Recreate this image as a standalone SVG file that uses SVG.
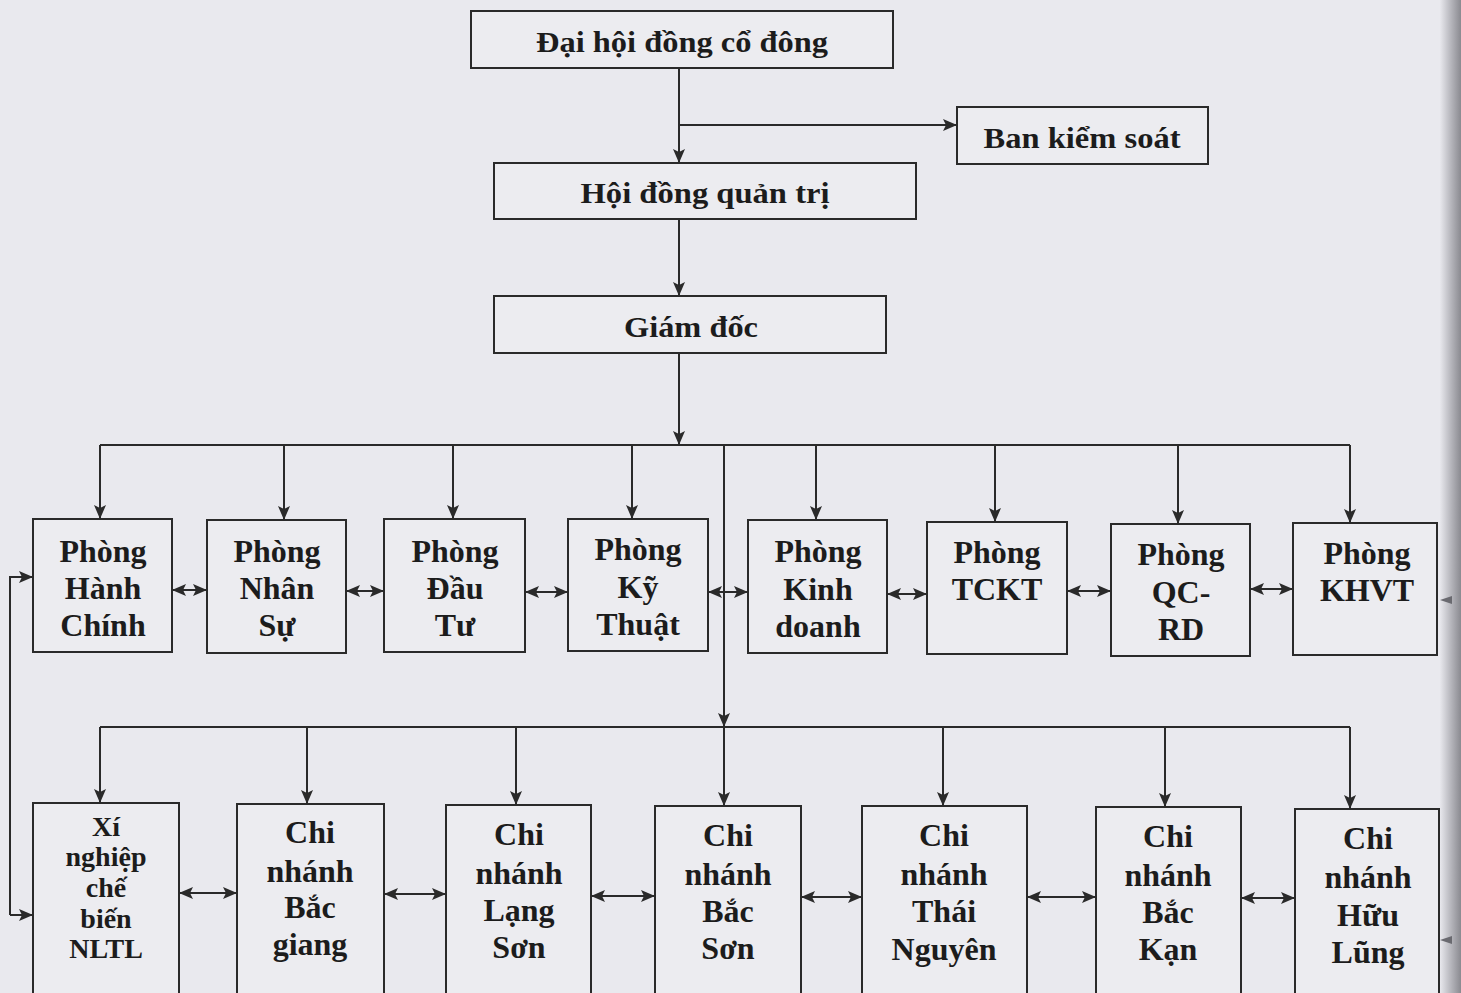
<svg xmlns="http://www.w3.org/2000/svg" width="1461" height="993" viewBox="0 0 1461 993">
<defs>
<marker id="ah" viewBox="0 0 14 12" refX="14" refY="6" markerWidth="14" markerHeight="12" markerUnits="userSpaceOnUse" orient="auto-start-reverse">
<path d="M0,0 L14,6 L0,12 L3,6 Z" fill="#2a2a2a"/>
</marker>
<linearGradient id="fold" x1="0" y1="0" x2="1" y2="0">
<stop offset="0" stop-color="#e8e8ed"/>
<stop offset="0.5" stop-color="#b8b8be"/>
<stop offset="1" stop-color="#8a8a90"/>
</linearGradient>
<style>
.box{fill:#ececf0;stroke:#2a2a2a;stroke-width:2}
.ln{fill:none;stroke:#2a2a2a;stroke-width:2}
.arr{marker-end:url(#ah)}
.dbl{marker-start:url(#ah);marker-end:url(#ah)}
text{font-family:"Liberation Serif","Times New Roman",serif;font-weight:bold;fill:#1c1c1c;text-anchor:middle}
.t{font-size:32px}
.s{font-size:28px}
.h{font-size:30px}
</style>
</defs>
<rect x="0" y="0" width="1461" height="993" fill="#e9e9ee"/>
<rect x="1440" y="0" width="21" height="993" fill="url(#fold)"/>

<g id="connectors">
<path class="ln arr" d="M679,68 V163"/>
<path class="ln arr" d="M679,125 H957"/>
<path class="ln arr" d="M679,219 V296"/>
<path class="ln arr" d="M679,353 V445"/>
<path class="ln" d="M100,445 H1350"/>
<path class="ln arr" d="M100,445 V519"/>
<path class="ln arr" d="M284,445 V520"/>
<path class="ln arr" d="M453,445 V519"/>
<path class="ln arr" d="M632,445 V519"/>
<path class="ln arr" d="M816,445 V520"/>
<path class="ln arr" d="M995,445 V522"/>
<path class="ln arr" d="M1178,445 V524"/>
<path class="ln arr" d="M1350,445 V523"/>
<path class="ln arr" d="M724,445 V727"/>
<path class="ln" d="M100,727 H1350"/>
<path class="ln arr" d="M100,727 V803"/>
<path class="ln arr" d="M307,727 V804"/>
<path class="ln arr" d="M516,727 V805"/>
<path class="ln arr" d="M724,727 V806"/>
<path class="ln arr" d="M943,727 V806"/>
<path class="ln arr" d="M1165,727 V807"/>
<path class="ln arr" d="M1350,727 V809"/>
<path class="ln dbl" d="M172,590 H207"/>
<path class="ln dbl" d="M346,591 H384"/>
<path class="ln dbl" d="M525,592 H568"/>
<path class="ln dbl" d="M708,592 H748"/>
<path class="ln dbl" d="M887,594 H927"/>
<path class="ln dbl" d="M1067,591 H1111"/>
<path class="ln dbl" d="M1250,589 H1293"/>
<path class="ln dbl" d="M179,893 H237"/>
<path class="ln dbl" d="M384,894 H446"/>
<path class="ln dbl" d="M591,896 H655"/>
<path class="ln dbl" d="M801,897 H862"/>
<path class="ln dbl" d="M1027,897 H1096"/>
<path class="ln dbl" d="M1241,898 H1295"/>
<path class="ln arr" d="M10,915 V577 H33"/>
<path class="ln arr" d="M10,915 H33"/>
<path d="M1440,600 L1452,596 L1452,604 Z" fill="#6a6a70"/>
<path d="M1440,940 L1452,936 L1452,944 Z" fill="#6a6a70"/>
</g>

<g id="n-dhdcd"><rect class="box" x="471" y="11" width="422" height="57"/><text class="h" x="682" y="52" textLength="292" lengthAdjust="spacingAndGlyphs">Đại hội đồng cổ đông</text></g>
<g id="n-bks"><rect class="box" x="957" y="107" width="251" height="57"/><text class="h" x="1082" y="148" textLength="197" lengthAdjust="spacingAndGlyphs">Ban kiểm soát</text></g>
<g id="n-hdqt"><rect class="box" x="494" y="163" width="422" height="56"/><text class="h" x="705" y="203" textLength="249" lengthAdjust="spacingAndGlyphs">Hội đồng quản trị</text></g>
<g id="n-gd"><rect class="box" x="494" y="296" width="392" height="57"/><text class="h" x="691" y="337" textLength="134" lengthAdjust="spacingAndGlyphs">Giám đốc</text></g>

<g id="n-hc"><rect class="box" x="33" y="519" width="139" height="133"/><text class="t" x="103" y="562">Phòng</text><text class="t" x="103" y="599">Hành</text><text class="t" x="103" y="636">Chính</text></g>
<g id="n-ns"><rect class="box" x="207" y="520" width="139" height="133"/><text class="t" x="277" y="562">Phòng</text><text class="t" x="277" y="599">Nhân</text><text class="t" x="277" y="636">Sự</text></g>
<g id="n-dt"><rect class="box" x="384" y="519" width="141" height="133"/><text class="t" x="455" y="562">Phòng</text><text class="t" x="455" y="599">Đầu</text><text class="t" x="455" y="636">Tư</text></g>
<g id="n-kt"><rect class="box" x="568" y="519" width="140" height="132"/><text class="t" x="638" y="560">Phòng</text><text class="t" x="638" y="598">Kỹ</text><text class="t" x="638" y="635">Thuật</text></g>
<g id="n-kd"><rect class="box" x="748" y="520" width="139" height="133"/><text class="t" x="818" y="562">Phòng</text><text class="t" x="818" y="600">Kinh</text><text class="t" x="818" y="637">doanh</text></g>
<g id="n-tckt"><rect class="box" x="927" y="522" width="140" height="132"/><text class="t" x="997" y="563">Phòng</text><text class="t" x="997" y="600">TCKT</text></g>
<g id="n-qcrd"><rect class="box" x="1111" y="524" width="139" height="132"/><text class="t" x="1181" y="565">Phòng</text><text class="t" x="1181" y="603">QC-</text><text class="t" x="1181" y="640">RD</text></g>
<g id="n-khvt"><rect class="box" x="1293" y="523" width="144" height="132"/><text class="t" x="1367" y="564">Phòng</text><text class="t" x="1367" y="601">KHVT</text></g>

<g id="n-xn"><rect class="box" x="33" y="803" width="146" height="200"/><text class="s" x="106" y="836">Xí</text><text class="s" x="106" y="866">nghiệp</text><text class="s" x="106" y="897">chế</text><text class="s" x="106" y="928">biến</text><text class="s" x="106" y="958">NLTL</text></g>
<g id="n-bg"><rect class="box" x="237" y="804" width="147" height="200"/><text class="t" x="310" y="843">Chi</text><text class="t" x="310" y="882">nhánh</text><text class="t" x="310" y="918">Bắc</text><text class="t" x="310" y="955">giang</text></g>
<g id="n-ls"><rect class="box" x="446" y="805" width="145" height="200"/><text class="t" x="519" y="845">Chi</text><text class="t" x="519" y="884">nhánh</text><text class="t" x="519" y="921">Lạng</text><text class="t" x="519" y="958">Sơn</text></g>
<g id="n-bs"><rect class="box" x="655" y="806" width="146" height="200"/><text class="t" x="728" y="846">Chi</text><text class="t" x="728" y="885">nhánh</text><text class="t" x="728" y="922">Bắc</text><text class="t" x="728" y="959">Sơn</text></g>
<g id="n-tn"><rect class="box" x="862" y="806" width="165" height="200"/><text class="t" x="944" y="846">Chi</text><text class="t" x="944" y="885">nhánh</text><text class="t" x="944" y="922">Thái</text><text class="t" x="944" y="960">Nguyên</text></g>
<g id="n-bk"><rect class="box" x="1096" y="807" width="145" height="200"/><text class="t" x="1168" y="847">Chi</text><text class="t" x="1168" y="886">nhánh</text><text class="t" x="1168" y="923">Bắc</text><text class="t" x="1168" y="960">Kạn</text></g>
<g id="n-hl"><rect class="box" x="1295" y="809" width="144" height="200"/><text class="t" x="1368" y="849">Chi</text><text class="t" x="1368" y="888">nhánh</text><text class="t" x="1368" y="926">Hữu</text><text class="t" x="1368" y="963">Lũng</text></g>
</svg>
